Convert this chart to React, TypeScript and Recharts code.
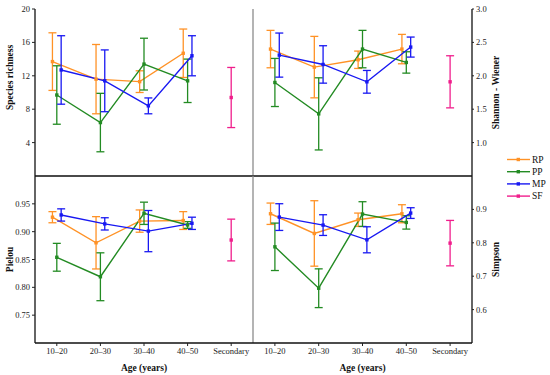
import React from 'react';
import { LineChart, Line, XAxis, YAxis, ErrorBar, ReferenceLine } from 'recharts';

const ageGroups = ['10–20', '20–30', '30–40', '40–50', 'Secondary'];

// species richness (mean, sd)
const rpRichness = [13.7, 11.6, 11.3, 14.7];
const rpRichnessSd = [3.45, 4.15, 1.3, 2.9];
const ppRichness = [9.7, 6.4, 13.4, 11.4];
const ppRichnessSd = [3.5, 3.5, 3.1, 2.6];
const mpRichness = [12.7, 11.4, 8.4, 14.4];
const mpRichnessSd = [4.1, 3.7, 0.95, 2.4];
const sfRichness = [9.4];
const sfRichnessSd = [3.6];

// Shannon - Wiener
const rpShannon = [2.4, 2.13, 2.24, 2.4];
const rpShannonSd = [0.28, 0.46, 0.13, 0.22];
const ppShannon = [1.9, 1.43, 2.4, 2.2];
const ppShannonSd = [0.36, 0.54, 0.28, 0.16];
const mpShannon = [2.31, 2.17, 1.91, 2.43];
const mpShannonSd = [0.33, 0.28, 0.17, 0.15];
const sfShannon = [1.91];
const sfShannonSd = [0.39];

// Pielou
const rpPielou = [0.926, 0.88, 0.919, 0.92];
const rpPielouSd = [0.01, 0.047, 0.02, 0.016];
const ppPielou = [0.854, 0.819, 0.933, 0.912];
const ppPielouSd = [0.025, 0.043, 0.02, 0.006];
const mpPielou = [0.93, 0.914, 0.901, 0.915];
const mpPielouSd = [0.011, 0.011, 0.037, 0.011];
const sfPielou = [0.885];
const sfPielouSd = [0.0375];

// Simpson
const rpSimpson = [0.887, 0.828, 0.869, 0.887];
const rpSimpsonSd = [0.032, 0.098, 0.02, 0.027];
const ppSimpson = [0.788, 0.664, 0.886, 0.861];
const ppSimpsonSd = [0.071, 0.058, 0.037, 0.02];
const mpSimpson = [0.877, 0.853, 0.809, 0.889];
const mpSimpsonSd = [0.04, 0.031, 0.039, 0.016];
const sfSimpson = [0.799];
const sfSimpsonSd = [0.068];

const FONT = '"Liberation Serif", "Times New Roman", serif';
const W = 550;
const H = 375;

const series = [
  { name: 'RP', color: '#FF9226', dodge: -0.1, start: 0 },
  { name: 'PP', color: '#238B23', dodge: 0, start: 0 },
  { name: 'MP', color: '#1818F2', dodge: 0.1, start: 0 },
  { name: 'SF', color: '#F01E8C', dodge: 0, start: 4 }, // secondary forest only
];

const rows = (means: number[], sds: number[], dodge: number, start: number) =>
  means.map((y, i) => ({ x: start + i + dodge, y, sd: sds[i] }));

const squareDot = (color: string) => (p: any) => (
  <rect key={`d-${p.index}`} x={p.cx - 1.7} y={p.cy - 1.7} width={3.4} height={3.4} fill={color} />
);

interface PanelProps {
  title: string;
  col: number;
  row: number;
  domain: [number, number];
  ticks: number[];
  digits: number;
  labelShift?: number;
  values: [number[], number[]][];
}

function Panel({ title, col, row, domain, ticks, digits, labelShift = 0, values }: PanelProps) {
  const left = col === 0;
  const top = row === 0;
  const margin = {
    top: top ? 9 : 176,
    bottom: top ? H - 176 - 10 : H - 343 - 30,
    left: left ? 5 : 253,
    right: left ? W - 253 : W - 472 - 30,
  };
  const tickStyle = { fontSize: 8.5, fill: '#222', fontFamily: FONT };
  const axisLabel = ({ viewBox }: any) => {
    const x = left ? viewBox.x + 5 : viewBox.x + 24;
    const y = viewBox.y + viewBox.height / 2 + labelShift;
    return (
      <text x={x} y={y} transform={`rotate(-90 ${x} ${y})`} textAnchor="middle" dominantBaseline="central"
        fontSize={9.5} fontWeight="bold" fontFamily={FONT} fill="#111">{title}</text>
    );
  };
  const ageLabel = ({ viewBox }: any) => (
    <text x={viewBox.x + viewBox.width / 2} y={viewBox.y + 28} textAnchor="middle"
      fontSize={9.5} fontWeight="bold" fontFamily={FONT} fill="#111">Age (years)</text>
  );
  return (
    <div style={{ position: 'absolute', left: 0, top: 0 }}>
      <LineChart width={W} height={H} margin={margin}>
        <XAxis
          type="number"
          dataKey="x"
          domain={[-0.5, 4.5]}
          ticks={[0, 1, 2, 3, 4]}
          allowDataOverflow
          height={top ? 10 : 30}
          tickSize={3}
          tickFormatter={(v: number) => ageGroups[v]}
          tick={top ? false : tickStyle}
          axisLine={top ? { stroke: '#4a4a4a', strokeWidth: 2 } : { stroke: '#111', strokeWidth: 1.3 }}
          tickLine={{ stroke: '#222' }}
          label={top ? undefined : ageLabel}
        />
        <YAxis
          type="number"
          orientation={left ? 'left' : 'right'}
          width={30}
          domain={domain}
          ticks={ticks}
          allowDataOverflow
          tickSize={left ? 3 : 2}
          tickFormatter={(v: number) => v.toFixed(digits)}
          tick={tickStyle}
          axisLine={{ stroke: '#111', strokeWidth: 1.3 }}
          tickLine={{ stroke: '#222' }}
          label={axisLabel}
        />
        {left && <ReferenceLine x={4.5} stroke="#8c8c8c" strokeWidth={1.3} />}
        {series.map((s, k) => (
          <Line
            key={s.name}
            name={s.name}
            data={rows(values[k][0], values[k][1], s.dodge, s.start)}
            dataKey="y"
            stroke={s.color}
            strokeWidth={1.4}
            dot={squareDot(s.color)}
            activeDot={false}
            isAnimationActive={false}
          >
            <ErrorBar dataKey="sd" direction="y" width={4} stroke={s.color} strokeWidth={1.3} />
          </Line>
        ))}
      </LineChart>
    </div>
  );
}

function LegendBox() {
  return (
    <svg width={50} height={55} style={{ position: 'absolute', left: 500, top: 150 }}>
      {series.map((s, i) => {
        const y = 9.5 + i * 12.2;
        return (
          <g key={s.name}>
            <line x1={7} x2={30} y1={y} y2={y} stroke={s.color} strokeWidth={1.4} />
            <rect x={16.6} y={y - 1.7} width={3.4} height={3.4} fill={s.color} />
            <text x={32} y={y} dominantBaseline="central" fontSize={9.5} fontFamily={FONT} fill="#111">{s.name}</text>
          </g>
        );
      })}
    </svg>
  );
}

export default function App() {
  return (
    <div style={{ position: 'absolute', left: 0, top: 0, width: W, height: H, background: '#fff' }}>
      <Panel title="Species richness" col={0} row={0} domain={[0, 20]} ticks={[4, 8, 12, 16, 20]} digits={0} labelShift={-15}
        values={[[rpRichness, rpRichnessSd], [ppRichness, ppRichnessSd], [mpRichness, mpRichnessSd], [sfRichness, sfRichnessSd]]} />
      <Panel title="Shannon - Wiener" col={1} row={0} domain={[0.5, 3]} ticks={[1, 1.5, 2, 2.5, 3]} digits={1}
        values={[[rpShannon, rpShannonSd], [ppShannon, ppShannonSd], [mpShannon, mpShannonSd], [sfShannon, sfShannonSd]]} />
      <Panel title="Pielou" col={0} row={1} domain={[0.7, 1]} ticks={[0.75, 0.8, 0.85, 0.9, 0.95]} digits={2}
        values={[[rpPielou, rpPielouSd], [ppPielou, ppPielouSd], [mpPielou, mpPielouSd], [sfPielou, sfPielouSd]]} />
      <Panel title="Simpson" col={1} row={1} domain={[0.5, 1]} ticks={[0.6, 0.7, 0.8, 0.9]} digits={1}
        values={[[rpSimpson, rpSimpsonSd], [ppSimpson, ppSimpsonSd], [mpSimpson, mpSimpsonSd], [sfSimpson, sfSimpsonSd]]} />
      <LegendBox />
    </div>
  );
}
